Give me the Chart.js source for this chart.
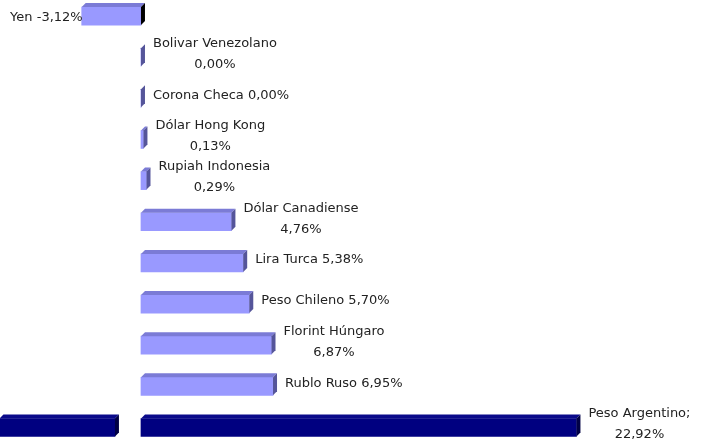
<!DOCTYPE html>
<html>
<head>
<meta charset="utf-8">
<script src="https://cdn.jsdelivr.net/npm/chart.js@4/dist/chart.umd.min.js"></script>
<style>
  body { margin: 0; background: #fff; }
  #wrap { width: 714px; height: 446px; }
</style>
</head>
<body>
<div id="wrap"><canvas id="fxChart" width="714" height="446"></canvas></div>
<script>
// currencies and their change vs. the reference date
const currencies = ['Yen', 'Bolivar Venezolano', 'Corona Checa', 'Dólar Hong Kong', 'Rupiah Indonesia',
  'Dólar Canadiense', 'Lira Turca', 'Peso Chileno', 'Florint Húngaro', 'Rublo Ruso', 'Peso Argentino'];
const changes = [-3.12, 0.00, 0.00, 0.13, 0.29, 4.76, 5.38, 5.70, 6.87, 6.95, 22.92];

// data label text, as shown next to each bar
const labelLines = [
  ['Yen -3,12%'],
  ['Bolivar Venezolano', '0,00%'],
  ['Corona Checa 0,00%'],
  ['Dólar Hong Kong', '0,13%'],
  ['Rupiah Indonesia', '0,29%'],
  ['Dólar Canadiense', '4,76%'],
  ['Lira Turca 5,38%'],
  ['Peso Chileno 5,70%'],
  ['Florint Húngaro', '6,87%'],
  ['Rublo Ruso 6,95%'],
  ['Peso Argentino;', '22,92%']
];

// the broken-off piece of the Peso Argentino bar at the far left
const argentinoOverflow = [-7.45, -1.37];

const DEPTH = 4;

function frontColor(i) { return i === 10 ? '#000080' : '#9999FF'; }
function topColor(i) { return i === 10 ? '#0A0A8A' : '#7B7BD6'; }
function sideColor(i, v) {
  if (i === 10) return '#000045';
  if (v < 0) return '#000000';
  return '#55559A';
}

// draws the fake 3d top and side faces of every bar
const bars3d = {
  id: 'bars3d',
  afterDatasetsDraw(chart) {
    const ctx = chart.ctx;
    ctx.save();
    chart.data.datasets.forEach((ds, di) => {
      const meta = chart.getDatasetMeta(di);
      meta.data.forEach((bar, k) => {
        const p = bar.getProps(['x', 'y', 'base', 'height'], true);
        const row = ds.data[k].y;
        const v = Array.isArray(ds.data[k].x) ? 1 : ds.data[k].x;
        const left = Math.min(p.x, p.base), right = Math.max(p.x, p.base);
        const top = p.y - p.height / 2, bottom = p.y + p.height / 2;
        // top face
        ctx.fillStyle = topColor(row);
        ctx.beginPath();
        ctx.moveTo(left, top);
        ctx.lineTo(left + DEPTH, top - DEPTH);
        ctx.lineTo(right + DEPTH, top - DEPTH);
        ctx.lineTo(right, top);
        ctx.closePath();
        ctx.fill();
        // side face
        ctx.fillStyle = sideColor(row, v);
        ctx.beginPath();
        ctx.moveTo(right, top);
        ctx.lineTo(right + DEPTH, top - DEPTH);
        ctx.lineTo(right + DEPTH, bottom - DEPTH);
        ctx.lineTo(right, bottom);
        ctx.closePath();
        ctx.fill();
      });
    });
    ctx.restore();
  },
  afterDraw(chart) {
    const ctx = chart.ctx;
    const meta = chart.getDatasetMeta(0);
    ctx.save();
    ctx.font = '13px "DejaVu Sans", Verdana, sans-serif';
    ctx.fillStyle = '#222222';
    ctx.textBaseline = 'middle';
    meta.data.forEach((bar, i) => {
      const p = bar.getProps(['x', 'y', 'base'], true);
      const lines = labelLines[i];
      const lineH = 21;
      const cy = p.y - 3 - (lines.length - 1) * lineH / 2;
      if (changes[i] < 0) {
        ctx.textAlign = 'right';
        ctx.fillText(lines[0], p.x + 1, p.y + 2);
        return;
      }
      const w = Math.max(...lines.map(t => ctx.measureText(t).width));
      const left = Math.max(p.x, p.base) + DEPTH + 8;
      ctx.textAlign = 'center';
      lines.forEach((t, j) => ctx.fillText(t, left + w / 2, cy + j * lineH));
    });
    ctx.restore();
  }
};

new Chart(document.getElementById('fxChart'), {
  type: 'bar',
  data: {
    datasets: [{
      label: 'Variación',
      data: changes.map((v, i) => ({ x: v, y: i })),
      backgroundColor: changes.map((v, i) => frontColor(i)),
      grouped: false,
      barThickness: 18,
      borderWidth: 0
    }, {
      label: 'Peso Argentino (cont.)',
      data: [{ x: argentinoOverflow, y: 10 }],
      backgroundColor: '#000080',
      grouped: false,
      barThickness: 18,
      borderWidth: 0
    }]
  },
  options: {
    indexAxis: 'y',
    responsive: false,
    animation: false,
    layout: { padding: 0 },
    plugins: { legend: { display: false }, tooltip: { enabled: false } },
    scales: {
      x: { type: 'linear', min: -7.42, max: 30.16, display: false },
      y: { type: 'linear', min: -0.39, max: 10.45, reverse: true, offset: false, display: false }
    }
  },
  plugins: [bars3d]
});
</script>
</body>
</html>
